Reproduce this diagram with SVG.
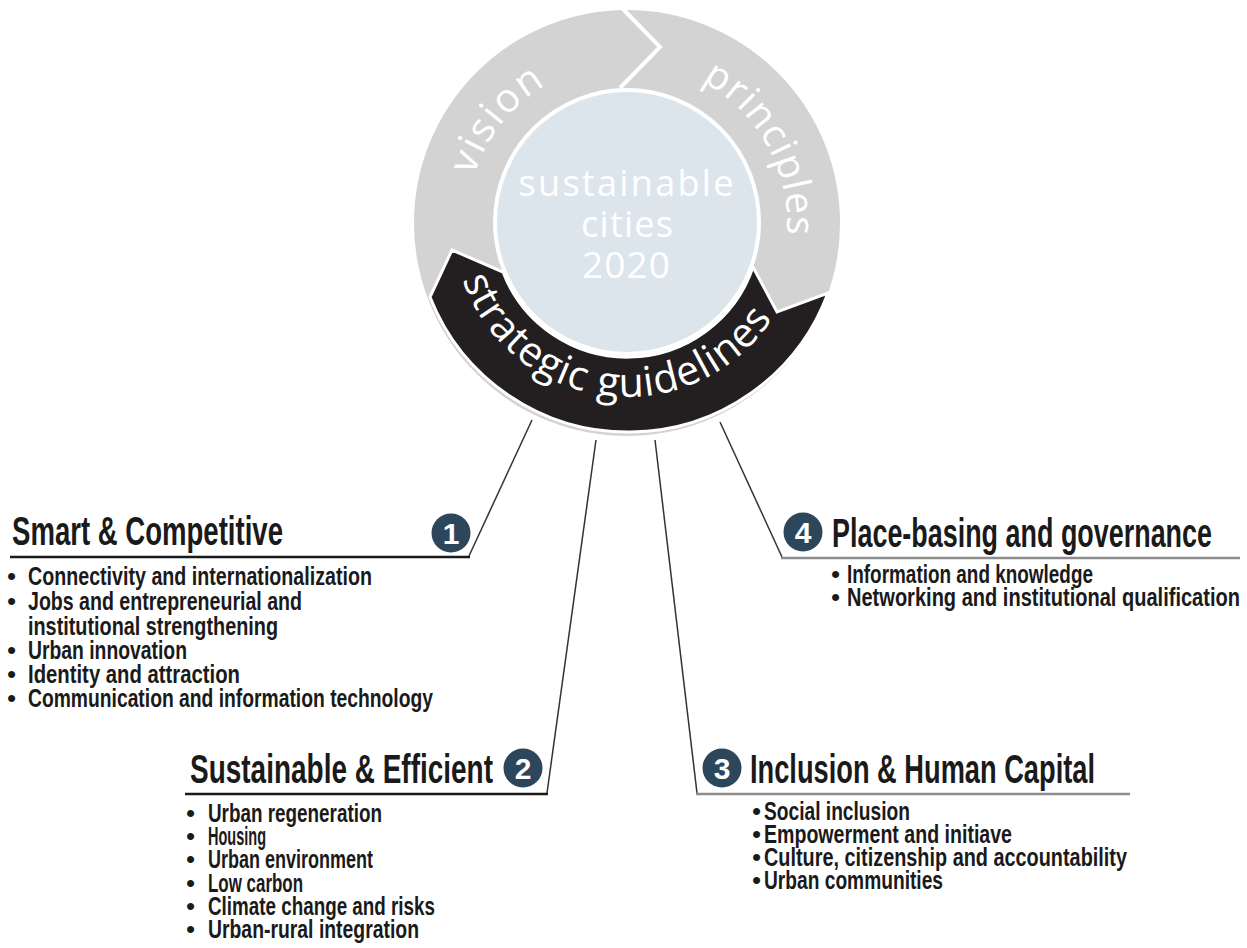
<svg xmlns="http://www.w3.org/2000/svg" width="1247" height="948" viewBox="0 0 1247 948">
<style>
.ring{font-family:"Open Sans","DejaVu Sans",sans-serif;fill:#ffffff;}
.ctr{font-family:"Open Sans","DejaVu Sans",sans-serif;fill:#ffffff;text-anchor:middle;}
.hd{font-family:"Liberation Sans Narrow","Liberation Sans",Arial,sans-serif;font-weight:bold;font-size:41px;fill:#1a1a1a;}
.it{font-family:"Liberation Sans Narrow","Liberation Sans",Arial,sans-serif;font-weight:bold;font-size:26px;fill:#1a1a1a;}
.bul{font-family:"Liberation Sans",Arial,sans-serif;font-size:26px;fill:#1a1a1a;}
.num{font-family:"Liberation Sans Narrow","Liberation Sans",Arial,sans-serif;font-weight:bold;font-size:30px;fill:#ffffff;text-anchor:middle;}
.badge{fill:#2c475c;}
.conn{stroke:#333333;stroke-width:1.5;fill:none;}
.uld{stroke:#1a1a1a;stroke-width:2.5;}
.ulg{stroke:#8c8c8c;stroke-width:2.5;}
</style>
<defs>
<path id="arcTop" d="M 467 223 A 160 160 0 1 1 787 223 A 160 160 0 1 1 467 223"/>
<path id="arcBot" d="M 453 223 A 174 174 0 0 0 801 223"/>
</defs>

<g id="ring">
<circle cx="627" cy="223" r="172" fill="none" stroke="#d3d3d3" stroke-width="82"/>
<path d="M 622 8 L 660 47 L 620 88" fill="none" stroke="#ffffff" stroke-width="4"/>
<path d="M 828 293 A 213 213 0 0 1 430 297 L 452 250 L 503 272 A 133 133 0 0 0 753 267 L 777 312 Z" fill="#231f20" stroke="#ffffff" stroke-width="3" stroke-linejoin="miter"/>
<circle cx="627" cy="222" r="132" fill="#dce5ec" stroke="#ffffff" stroke-width="4"/>
<text class="ring" font-size="40"><textPath href="#arcTop" startOffset="108" text-anchor="middle" letter-spacing="2">vision</textPath></text>
<text class="ring" font-size="39"><textPath href="#arcTop" startOffset="422" text-anchor="middle" letter-spacing="1">principles</textPath></text>
<text class="ring" font-size="41"><textPath href="#arcBot" startOffset="252" text-anchor="middle" letter-spacing="1">strategic guidelines</textPath></text>
<text class="ctr" x="626" y="196" font-size="36" textLength="215">sustainable</text>
<text class="ctr" x="627" y="237" font-size="36" textLength="92">cities</text>
<text class="ctr" x="626" y="278" font-size="37" textLength="88">2020</text>
</g>

<g id="connectors">
<polyline class="conn" points="532,420 469,556"/>
<line class="uld" x1="10" y1="557" x2="470" y2="557"/>
<line class="conn" x1="596" y1="440" x2="547" y2="793"/>
<line class="uld" x1="185" y1="794" x2="548" y2="794"/>
<line class="conn" x1="655" y1="440" x2="697" y2="793"/>
<line class="ulg" x1="696" y1="794" x2="1130" y2="794"/>
<line class="conn" x1="720" y1="422" x2="782" y2="557"/>
<line class="ulg" x1="781" y1="558" x2="1240" y2="558"/>
</g>

<g id="node1">
<text class="hd" x="12" y="545" textLength="271" lengthAdjust="spacingAndGlyphs">Smart &amp; Competitive</text>
<circle class="badge" cx="451" cy="533" r="19.5"/>
<text class="num" x="451" y="544">1</text>
<text class="bul" x="7" y="585">•</text>
<text class="it" x="28" y="585" textLength="344" lengthAdjust="spacingAndGlyphs">Connectivity and internationalization</text>
<text class="bul" x="7" y="610">•</text>
<text class="it" x="28" y="610" textLength="274" lengthAdjust="spacingAndGlyphs">Jobs and entrepreneurial and</text>
<text class="it" x="28" y="635" textLength="250" lengthAdjust="spacingAndGlyphs">institutional strengthening</text>
<text class="bul" x="7" y="659">•</text>
<text class="it" x="28" y="659" textLength="159" lengthAdjust="spacingAndGlyphs">Urban innovation</text>
<text class="bul" x="7" y="683">•</text>
<text class="it" x="28" y="683" textLength="212" lengthAdjust="spacingAndGlyphs">Identity and attraction</text>
<text class="bul" x="7" y="707">•</text>
<text class="it" x="28" y="707" textLength="405" lengthAdjust="spacingAndGlyphs">Communication and information technology</text>
</g>

<g id="node2">
<text class="hd" x="190" y="783" textLength="303" lengthAdjust="spacingAndGlyphs">Sustainable &amp; Efficient</text>
<circle class="badge" cx="523" cy="768" r="19.5"/>
<text class="num" x="523" y="779">2</text>
<text class="bul" x="186" y="822">•</text>
<text class="it" x="208" y="822" textLength="174" lengthAdjust="spacingAndGlyphs">Urban regeneration</text>
<text class="bul" x="186" y="845">•</text>
<text class="it" x="208" y="845" textLength="58" lengthAdjust="spacingAndGlyphs">Housing</text>
<text class="bul" x="186" y="868">•</text>
<text class="it" x="208" y="868" textLength="165" lengthAdjust="spacingAndGlyphs">Urban environment</text>
<text class="bul" x="186" y="892">•</text>
<text class="it" x="208" y="892" textLength="95" lengthAdjust="spacingAndGlyphs">Low carbon</text>
<text class="bul" x="186" y="915">•</text>
<text class="it" x="208" y="915" textLength="227" lengthAdjust="spacingAndGlyphs">Climate change and risks</text>
<text class="bul" x="186" y="938">•</text>
<text class="it" x="208" y="938" textLength="211" lengthAdjust="spacingAndGlyphs">Urban-rural integration</text>
</g>

<g id="node3">
<circle class="badge" cx="722" cy="768" r="19.5"/>
<text class="num" x="722" y="779">3</text>
<text class="hd" x="750" y="783" textLength="345" lengthAdjust="spacingAndGlyphs">Inclusion &amp; Human Capital</text>
<text class="bul" x="752" y="820">•</text>
<text class="it" x="764" y="820" textLength="146" lengthAdjust="spacingAndGlyphs">Social inclusion</text>
<text class="bul" x="752" y="843">•</text>
<text class="it" x="764" y="843" textLength="248" lengthAdjust="spacingAndGlyphs">Empowerment and initiave</text>
<text class="bul" x="752" y="866">•</text>
<text class="it" x="764" y="866" textLength="363" lengthAdjust="spacingAndGlyphs">Culture, citizenship and accountability</text>
<text class="bul" x="752" y="889">•</text>
<text class="it" x="764" y="889" textLength="179" lengthAdjust="spacingAndGlyphs">Urban communities</text>
</g>

<g id="node4">
<circle class="badge" cx="803" cy="532" r="19.5"/>
<text class="num" x="803" y="543">4</text>
<text class="hd" x="832" y="547" textLength="380" lengthAdjust="spacingAndGlyphs">Place-basing and governance</text>
<text class="bul" x="831" y="583">•</text>
<text class="it" x="847" y="583" textLength="246" lengthAdjust="spacingAndGlyphs">Information and knowledge</text>
<text class="bul" x="831" y="606">•</text>
<text class="it" x="847" y="606" textLength="393" lengthAdjust="spacingAndGlyphs">Networking and institutional qualification</text>
</g>
</svg>
